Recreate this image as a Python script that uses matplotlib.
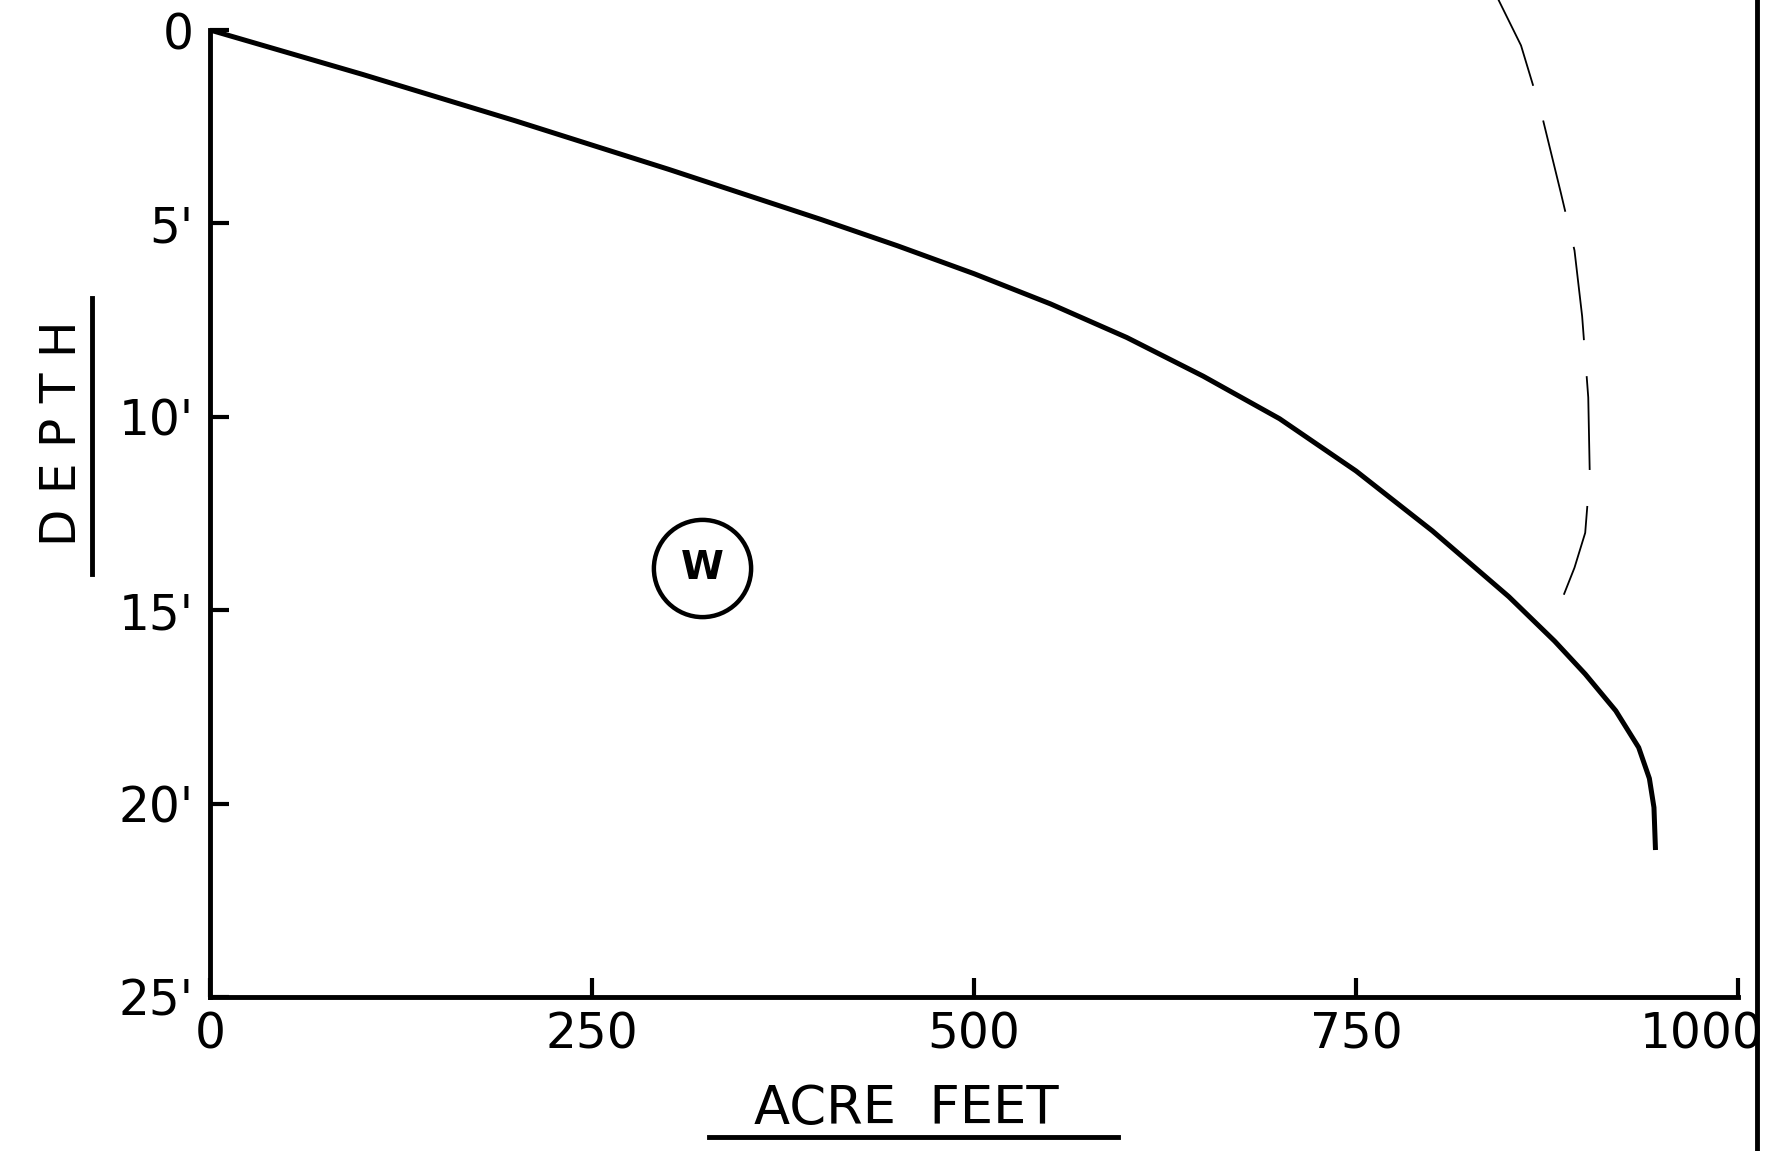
import matplotlib.pyplot as plt
from matplotlib.lines import Line2D
from matplotlib.transforms import ScaledTranslation

# storage curve (acre feet vs depth in feet)
acre_feet = [0, 100, 200, 300, 350, 400, 450, 500, 550, 600, 650, 700, 750, 800, 850,
             880, 900, 920, 935, 942, 945, 946]
depth = [0, 1.15, 2.35, 3.6, 4.25, 4.9, 5.58, 6.3, 7.08, 7.95, 8.95, 10.05, 11.4, 12.95, 14.65,
         15.8, 16.65, 17.6, 18.55, 19.35, 20.1, 21.2]

# dashed guide curve
dash_x = [843, 858, 871, 884, 893, 898, 902, 903, 900, 893, 886]
dash_y = [-0.8, 0.4, 2.1, 4.2, 5.7, 7.4, 9.5, 11.5, 13.0, 13.9, 14.6]

x_ticks = [0, 250, 500, 750, 1000]
x_labels = ["0", "250", "500", "750", "1000"]
y_ticks = [0, 5, 10, 15, 20, 25]
y_labels = ["0", "5'", "10'", "15'", "20'", "25'"]

W = 1766
H = 1151
fig = plt.figure(figsize=(W / 100, H / 100), dpi=100)
ax = fig.add_axes([210 / W, 154 / H, 1528 / W, 967 / H])

ax.plot(acre_feet, depth, color="black", lw=3.6, solid_capstyle="butt", solid_joinstyle="round")
ax.plot(dash_x, dash_y, color="black", lw=1.3, dashes=(52, 20), clip_on=False)

ax.set_xlim(0, 1000)
ax.set_ylim(25, 0)
for side in ["top", "right"]:
    ax.spines[side].set_visible(False)
for side in ["left", "bottom"]:
    ax.spines[side].set_linewidth(3.5)

ax.set_xticks(x_ticks)
ax.set_xticklabels(x_labels)
ax.set_yticks(y_ticks)
ax.set_yticklabels(y_labels)
ax.tick_params(axis="both", direction="in", length=14, width=3, labelsize=35, pad=12)
ax.tick_params(axis="x", pad=10)

# last x label sits against the page edge
lab = ax.get_xticklabels()[-1]
lab.set_horizontalalignment("right")
lab.set_transform(lab.get_transform() + ScaledTranslation(0.26, 0, fig.dpi_scale_trans))

# W marker
ax.plot([322], [13.9], marker="o", ms=70, mfc="none", mec="black", mew=3.2)
ax.text(322, 13.9, "W", ha="center", va="center", fontsize=28, fontweight="bold")

# axis titles with underline
fig.text(906 / W, 1 - 1109 / H, "ACRE  FEET", ha="center", va="center", fontsize=38)
fig.add_artist(Line2D([709 / W, 1118 / W], [1 - 1137 / H] * 2, color="black", lw=3.5))
fig.text(62 / W, 1 - 433 / H, "D E P T H", ha="center", va="center", fontsize=35, rotation=90)
fig.add_artist(Line2D([92 / W] * 2, [1 - 298 / H, 1 - 574 / H], color="black", lw=3.5))

# page edge at the right
fig.add_artist(Line2D([1757 / W] * 2, [0, 1], color="black", lw=3.5))

fig.savefig("out.png", dpi=100, facecolor="white")
